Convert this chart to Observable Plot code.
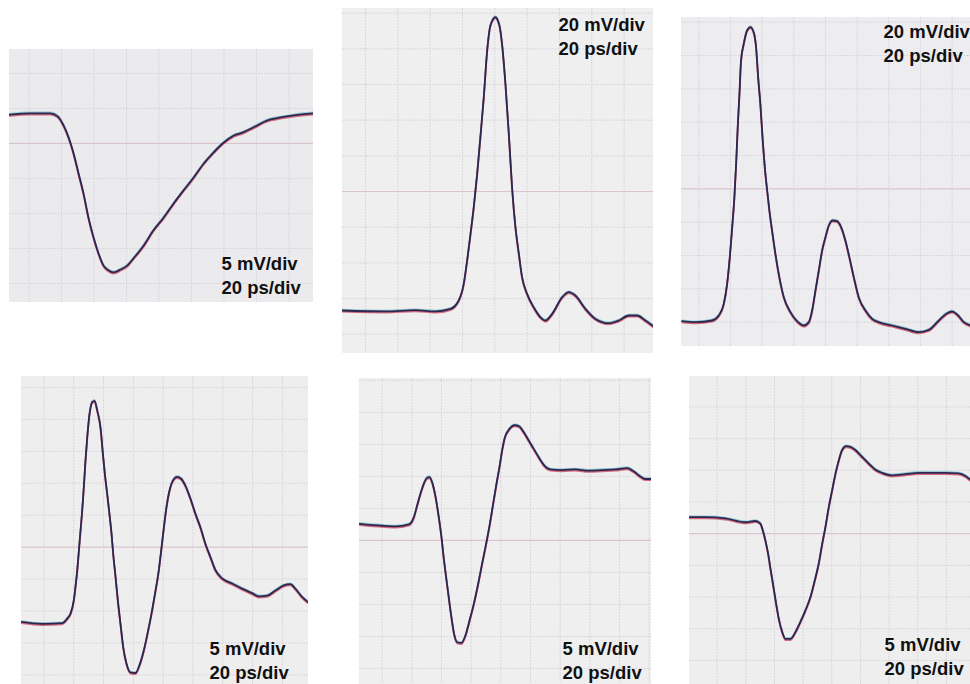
<!DOCTYPE html>
<html>
<head>
<meta charset="utf-8">
<script src="https://cdn.jsdelivr.net/npm/d3@7"></script>
<script src="https://cdn.jsdelivr.net/npm/@observablehq/plot@0.6"></script>
<style>
html, body { margin: 0; padding: 0; background: #ffffff; }
#wrap { position: relative; width: 970px; height: 684px; overflow: hidden; background: #ffffff; }
.panel { position: absolute; }
.panel svg { display: block; }
</style>
</head>
<body>
<div id="wrap"></div>
<script>
// ---- Waveform readings: time in ps, amplitude in mV (0 = centre graticule line) ----
// Panel 1 (5 mV/div, 20 ps/div)
const p1Time = [-12.0, 0.9, 13.2, 17.5, 21.2, 24.3, 27.4, 30.5, 33.5, 36.6, 39.7, 42.8, 45.8, 48.9, 52.0, 56.3, 60.6, 64.3, 70.5, 76.6, 82.8, 88.9, 95.1, 101.2, 107.4, 113.5, 119.7, 125.8, 132.0, 138.2, 146.8, 154.8, 162.8, 175.1];
const p1Volt = [4.1, 4.3, 4.3, 3.9, 2.6, 0.9, -1.4, -4.3, -7.1, -10.6, -13.4, -15.7, -17.4, -18.1, -18.4, -18.0, -17.4, -16.4, -14.6, -12.4, -10.6, -8.6, -6.7, -4.9, -2.9, -1.3, 0.1, 1.1, 1.6, 2.3, 3.3, 3.7, 4.0, 4.3];

// Panel 2 (20 mV/div, 20 ps/div)
const p2Time = [-14.4, 12.4, 30.9, 43.3, 52.6, 57.7, 60.8, 62.9, 65.0, 67.0, 69.1, 71.1, 73.2, 75.3, 77.3, 80.4, 82.9, 84.5, 86.6, 88.7, 90.7, 92.8, 94.9, 96.9, 100.0, 104.1, 108.3, 111.3, 115.5, 121.7, 125.8, 129.9, 136.1, 142.3, 150.5, 156.7, 162.9, 168.1, 173.2, 178.4];
const p2Volt = [-66.7, -67.2, -66.5, -67.2, -65.8, -61.1, -51.8, -38.7, -23.7, -8.8, 9.9, 30.5, 52.9, 79.1, 93.1, 97.7, 93.1, 82.8, 60.4, 32.3, 2.4, -20.0, -34.9, -48.0, -57.4, -64.9, -70.5, -72.3, -68.6, -59.2, -56.4, -58.3, -65.8, -71.4, -73.8, -72.3, -69.5, -69.5, -72.3, -75.7];

// Panel 3 (20 mV/div, 20 ps/div)
const p3Time = [-10.5, -2.1, 8.4, 12.6, 15.8, 17.9, 19.6, 21.1, 22.5, 23.6, 24.6, 25.7, 26.7, 28.4, 30.5, 32.6, 34.7, 36.2, 37.5, 38.9, 40.4, 41.7, 43.2, 44.6, 46.3, 48.4, 50.5, 53.7, 57.9, 62.1, 66.3, 69.5, 71.6, 73.7, 75.8, 77.9, 80.0, 82.1, 84.6, 87.4, 89.9, 92.6, 95.1, 97.9, 101.0, 105.3, 109.5, 113.7, 122.1, 130.5, 138.9, 145.3, 151.6, 156.8, 160.0, 163.2, 167.4, 171.6];
const p3Volt = [-79.4, -80.0, -79.0, -76.0, -69.0, -57.0, -41.0, -23.0, -5.0, 15.0, 37.0, 57.0, 77.0, 87.0, 95.0, 97.0, 94.0, 85.0, 67.0, 51.0, 29.0, 13.0, -1.0, -13.0, -25.0, -39.0, -51.0, -65.0, -74.0, -79.4, -82.0, -80.0, -73.0, -61.0, -49.0, -37.0, -29.0, -22.0, -19.0, -19.4, -23.0, -31.0, -41.0, -53.0, -65.0, -73.0, -78.0, -80.0, -82.0, -84.0, -86.0, -84.6, -79.0, -74.6, -73.6, -75.4, -80.0, -82.0];

// Panel 4 (5 mV/div, 20 ps/div)
const p4Time = [-15.6, -1.1, 12.3, 15.6, 17.9, 20.1, 21.2, 22.4, 23.5, 24.6, 25.7, 26.8, 27.9, 29.1, 30.6, 32.4, 34.0, 35.8, 38.0, 39.6, 40.9, 42.5, 44.0, 45.4, 46.5, 48.1, 49.6, 51.4, 53.2, 55.4, 58.1, 61.5, 64.1, 67.1, 70.0, 72.6, 74.9, 77.1, 78.7, 80.5, 82.2, 84.3, 86.5, 89.4, 92.1, 95.0, 98.3, 101.7, 105.0, 108.4, 111.8, 115.1, 119.6, 126.3, 133.0, 139.7, 144.2, 149.7, 155.3, 160.9, 165.4, 168.7, 173.2, 177.2];
const p4Volt = [-11.7, -12.0, -11.9, -11.2, -10.4, -8.3, -6.2, -3.6, -0.5, 2.6, 5.7, 9.4, 13.5, 17.2, 20.8, 22.7, 22.9, 21.4, 18.7, 14.6, 11.5, 8.3, 5.2, 2.1, -1.0, -4.7, -8.3, -12.0, -15.6, -18.2, -19.6, -19.7, -18.5, -16.1, -13.0, -9.9, -6.8, -3.6, -0.5, 3.1, 6.2, 8.9, 10.4, 11.0, 10.7, 9.6, 7.6, 5.2, 3.1, 0.5, -1.6, -3.6, -4.9, -5.7, -6.5, -7.2, -7.7, -7.6, -6.8, -6.0, -5.8, -6.5, -7.8, -8.6];

// Panel 5 (5 mV/div, 20 ps/div)
const p5Time = [-15.3, 0.0, 9.0, 18.0, 21.3, 23.6, 25.8, 28.1, 30.3, 31.9, 33.7, 36.0, 38.2, 40.0, 41.6, 43.1, 44.9, 46.7, 48.5, 50.6, 53.5, 56.2, 58.9, 61.8, 64.7, 67.4, 70.1, 72.6, 74.8, 77.1, 79.1, 80.9, 82.7, 85.4, 89.4, 92.6, 95.5, 98.9, 102.2, 105.6, 109.0, 113.5, 121.3, 130.3, 139.3, 148.3, 157.3, 165.2, 169.6, 174.1, 177.5, 181.6];
const p5Volt = [2.6, 2.3, 2.2, 2.5, 3.6, 5.5, 7.3, 8.9, 9.8, 9.9, 9.1, 6.8, 3.6, 0.5, -2.9, -5.7, -8.9, -12.0, -14.6, -15.9, -16.0, -14.8, -12.5, -9.9, -6.8, -3.6, -0.5, 2.6, 5.7, 8.9, 11.5, 14.1, 16.1, 17.3, 18.0, 17.8, 16.9, 15.6, 14.3, 13.0, 11.8, 11.1, 11.0, 11.1, 10.9, 11.0, 11.1, 11.3, 10.8, 10.0, 9.6, 9.6];

// Panel 6 (5 mV/div, 20 ps/div)
const p6Time = [-19.3, -8.1, 5.8, 19.8, 26.7, 30.2, 31.9, 33.7, 35.6, 37.4, 39.3, 41.2, 43.0, 45.4, 47.7, 51.2, 54.7, 58.1, 61.6, 65.1, 68.1, 70.9, 73.3, 75.6, 77.9, 80.2, 82.6, 84.9, 87.2, 90.0, 93.0, 96.5, 100.0, 103.5, 107.0, 110.5, 115.1, 122.1, 131.4, 140.7, 150.0, 159.3, 168.6, 173.3, 176.8];
const p6Volt = [2.6, 2.6, 2.4, 1.8, 2.0, 1.6, 0.5, -1.1, -3.2, -5.8, -8.4, -11.1, -13.4, -15.5, -16.6, -16.6, -15.5, -13.9, -12.1, -10.0, -7.4, -4.7, -1.6, 1.1, 4.2, 6.8, 9.5, 11.6, 13.2, 13.8, 13.7, 13.2, 12.4, 11.6, 10.8, 10.1, 9.6, 9.2, 9.4, 9.6, 9.6, 9.6, 9.5, 9.1, 8.5];

// Graticule divisions
const gridTimePs = [-20, 0, 20, 40, 60, 80, 100, 120, 140, 160, 180];
const gridMv5 = [-25, -20, -15, -10, -5, 0, 5, 10, 15, 20, 25];
const gridMv20 = [-100, -80, -60, -40, -20, 0, 20, 40, 60, 80, 100];

// Scale annotations
const label5 = "5 mV/div\n20 ps/div";
const label20 = "20 mV/div\n20 ps/div";

// ---- Layout of the six scanned screens ----
const panels = [
  {time: p1Time, volt: p1Volt, grid: gridMv5,  label: label5,  left: 9,   top: 49,  width: 304, height: 253, tDom: [-12.0, 175.1], vDom: [-22.7, 13.4], ldx: 212, ldy: 244, bg: "#ebebed"},
  {time: p2Time, volt: p2Volt, grid: gridMv20, label: label20, left: 342, top: 8,   width: 311, height: 345, tDom: [-14.2, 178.2], vDom: [-90.8, 102.6], ldx: 216, ldy: 46, bg: "#efeff0"},
  {time: p3Time, volt: p3Volt, grid: gridMv20, label: label20, left: 681, top: 17,  width: 289, height: 329, tDom: [-10.9, 171.6], vDom: [-94.6, 102.8], ldx: 202, ldy: 44, bg: "#ededef"},
  {time: p4Time, volt: p4Volt, grid: gridMv5,  label: label5,  left: 21,  top: 376, width: 287, height: 308, tDom: [-15.0, 177.5], vDom: [-21.5, 26.7], ldx: 188, ldy: 302, bg: "#efeeef"},
  {time: p5Time, volt: p5Volt, grid: gridMv5,  label: label5,  left: 359, top: 378, width: 292, height: 306, tDom: [-15.3, 181.6], vDom: [-22.5, 25.3], ldx: 203, ldy: 300, bg: "#efeff0"},
  {time: p6Time, volt: p6Volt, grid: gridMv5,  label: label5,  left: 689, top: 376, width: 281, height: 308, tDom: [-19.3, 176.8], vDom: [-23.8, 24.8], ldx: 195, ldy: 298, bg: "#eeeeef"}
];

const wrap = document.getElementById("wrap");
const inside = (v, dom) => v > dom[0] && v < dom[1];

for (const p of panels) {
  const data = p.time.map((t, i) => ({t, v: p.volt[i]}));
  const vLines = gridTimePs.filter(t => inside(t, p.tDom));
  const hLines = p.grid.filter(v => inside(v, p.vDom) && v !== 0);
  const chart = Plot.plot({
    width: p.width,
    height: p.height,
    margin: 0,
    x: {domain: p.tDom, axis: null},
    y: {domain: p.vDom, axis: null},
    style: {background: p.bg, overflow: "hidden", fontFamily: "Liberation Sans, Arial, sans-serif"},
    marks: [
      Plot.ruleX(vLines, {stroke: "#d8d8dd", strokeWidth: 1, strokeDasharray: "2,1"}),
      Plot.ruleY(hLines, {stroke: "#d8d8dd", strokeWidth: 1, strokeDasharray: "2,1"}),
      Plot.ruleY([0], {stroke: "#dac5ce", strokeWidth: 1.2}),
      Plot.line(data, {x: "t", y: "v", curve: "monotone-x", stroke: "#3aa6b8", strokeWidth: 1.5, strokeOpacity: 0.5, dy: -1}),
      Plot.line(data, {x: "t", y: "v", curve: "monotone-x", stroke: "#c8324a", strokeWidth: 1.8, strokeOpacity: 0.7, dy: 1.2}),
      Plot.line(data, {x: "t", y: "v", curve: "monotone-x", stroke: "#2e2550", strokeWidth: 1.8}),
      Plot.text([p.label], {
        text: d => d,
        frameAnchor: "top-left",
        dx: p.ldx,
        dy: p.ldy,
        textAnchor: "start",
        lineAnchor: "bottom",
        lineHeight: 1.27,
        fontSize: 18.5,
        fontWeight: "bold",
        fontFamily: "Liberation Sans, Arial, sans-serif",
        fill: "#111111"
      })
    ]
  });
  const div = document.createElement("div");
  div.className = "panel";
  div.style.left = p.left + "px";
  div.style.top = p.top + "px";
  div.style.width = p.width + "px";
  div.style.height = p.height + "px";
  div.style.overflow = "hidden";
  div.appendChild(chart);
  wrap.appendChild(div);
}
</script>
</body>
</html>
